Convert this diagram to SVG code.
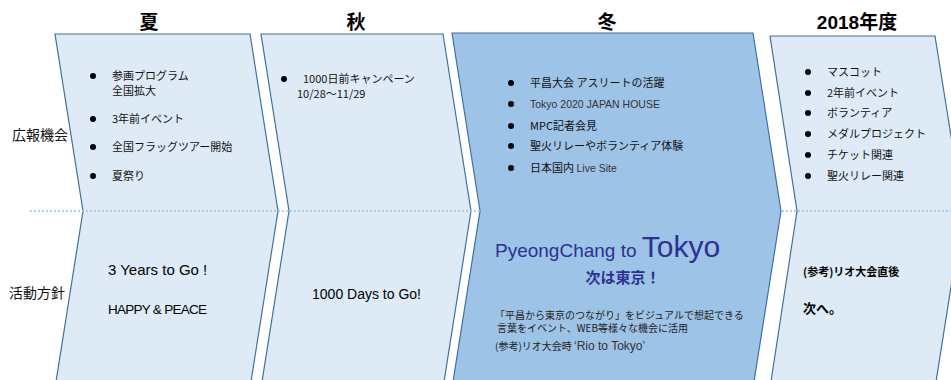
<svg xmlns="http://www.w3.org/2000/svg" width="951" height="380" viewBox="0 0 951 380">
<style>
.lt{fill:#deebf7;stroke:#41719c;stroke-width:1.2}
.dk{fill:#9dc3e6;stroke:#41719c;stroke-width:1.2}
.ttl{font-family:"Liberation Sans","Noto Sans CJK JP",sans-serif;font-size:19px;font-weight:bold;fill:#000;text-anchor:middle}
.jp{font-family:"Noto Sans CJK JP",sans-serif;font-size:11px;fill:#111}
.sm{font-family:"Noto Sans CJK JP",sans-serif;font-size:10px;fill:#222}
.lbl{font-family:"Noto Sans CJK JP",sans-serif;font-size:14px;fill:#111}
.en{font-family:"Liberation Sans",sans-serif;fill:#000}
.blue{fill:#2e3191}
</style>
<g id="connectors"/>
<g id="summer">
<polygon class="lt" points="55,34 250,34 278,211 250,388 55,388 83,211"/>
<text class="ttl" x="149" y="29">夏</text>
<circle cx="93" cy="76" r="3"/><text class="jp" x="112" y="80">参画プログラム</text>
<text class="jp" x="112" y="95">全国拡大</text>
<circle cx="93" cy="119" r="3"/><text class="jp" x="112" y="123">3年前イベント</text>
<circle cx="93" cy="147" r="3"/><text class="jp" x="112" y="151">全国フラッグツアー開始</text>
<circle cx="93" cy="176" r="3"/><text class="jp" x="112" y="180">夏祭り</text>
<text class="en" x="108" y="275" font-size="15">3 Years to Go !</text>
<text class="en" x="108" y="314" font-size="13.5" textLength="99">HAPPY &amp; PEACE</text>
</g>
<g id="autumn">
<polygon class="lt" points="261,34 443,34 471,211 443,388 261,388 289,211"/>
<text class="ttl" x="356" y="29">秋</text>
<circle cx="284" cy="79" r="3"/><text class="jp" x="303" y="83">1000日前キャンペーン</text>
<text class="jp" x="297" y="98">10/28～11/29</text>
<text class="en" x="312" y="299" font-size="14" textLength="109">1000 Days to Go!</text>
</g>
<g id="winter">
<polygon class="dk" points="452,33 753,33 781,211 753,388 452,388 480,211"/>
<text class="ttl" x="607" y="29">冬</text>
<circle cx="511" cy="83" r="3"/><text class="jp" x="530" y="87">平昌大会 アスリートの活躍</text>
<circle cx="511" cy="104" r="3"/><text class="en" x="530" y="108" style="font-size:10.5px;fill:#333">Tokyo 2020 JAPAN HOUSE</text>
<circle cx="511" cy="126" r="3"/><text class="jp" x="530" y="130">MPC記者会見</text>
<circle cx="511" cy="146" r="3"/><text class="jp" x="530" y="150">聖火リレーやボランティア体験</text>
<circle cx="511" cy="168" r="3"/><text class="jp" x="530" y="172">日本国内 <tspan font-family="Liberation Sans" font-size="10.5" fill="#333">Live Site</tspan></text>
<text class="en blue" x="495" y="257" font-size="19">PyeongChang to <tspan font-size="30">Tokyo</tspan></text>
<text class="jp blue" x="623" y="283" style="font-size:15px;font-weight:bold;fill:#2e3191" text-anchor="middle">次は東京！</text>
<text class="sm" x="495" y="319">「平昌から東京のつながり」をビジュアルで想起できる</text>
<text class="sm" x="497" y="332">言葉をイベント、WEB等様々な機会に活用</text>
<text class="sm" x="495" y="350">(参考)リオ大会時 <tspan font-family="Liberation Sans" font-size="12" fill="#333">‘Rio to Tokyo’</tspan></text>
</g>
<g id="fy2018">
<polygon class="lt" points="770,36 935,36 963,211 935,388 770,388 797,211"/>
<text class="ttl" x="857" y="29">2018年度</text>
<circle cx="808" cy="72" r="3"/><text class="jp" x="827" y="76">マスコット</text>
<circle cx="808" cy="93" r="3"/><text class="jp" x="827" y="97">2年前イベント</text>
<circle cx="808" cy="113" r="3"/><text class="jp" x="827" y="117">ボランティア</text>
<circle cx="808" cy="134" r="3"/><text class="jp" x="827" y="138">メダルプロジェクト</text>
<circle cx="808" cy="155" r="3"/><text class="jp" x="827" y="159">チケット関連</text>
<circle cx="808" cy="176" r="3"/><text class="jp" x="827" y="180">聖火リレー関連</text>
<text class="jp" x="803" y="276" style="font-weight:bold;fill:#000">(参考)リオ大会直後</text>
<text class="jp" x="803" y="313" style="font-size:13px;font-weight:bold;fill:#000">次へ。</text>
</g>
<g id="labels">
<text class="lbl" x="12" y="140">広報機会</text>
<text class="lbl" x="9" y="298">活動方針</text>
</g>
<line x1="30" y1="211" x2="951" y2="211" stroke="#9dc3e6" stroke-width="1.5" stroke-dasharray="2,2"/>
</svg>
